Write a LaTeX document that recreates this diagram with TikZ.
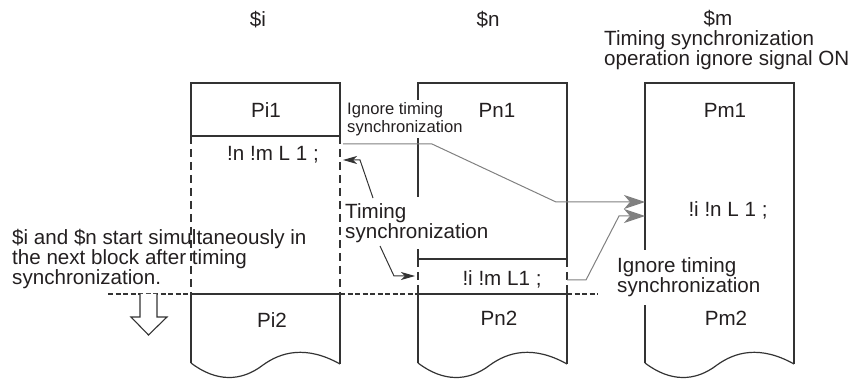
\documentclass[tikz,border=0pt]{standalone}
\usepackage{fontspec}
\setmainfont{Liberation Sans}
\usetikzlibrary{arrows.meta}
\definecolor{linec}{HTML}{333333}
\definecolor{textc}{HTML}{231F20}
\definecolor{grayc}{HTML}{808080}
\begin{document}
\begin{tikzpicture}[x=1pt,y=-1pt,
  box/.style={draw=linec,line width=1.2pt},
  dashv/.style={draw=linec,line width=1.2pt,dash pattern=on 8pt off 5pt},
  dashh/.style={draw=linec,line width=1.2pt,dash pattern=on 5pt off 2.5pt},
  txt/.style={inner sep=0pt,text=textc,font=\fontsize{20.6}{19}\selectfont},
  txtb/.style={inner sep=0pt,text=textc,font=\fontsize{20.6}{20}\selectfont},
  txtc/.style={inner sep=0pt,text=textc,font=\fontsize{20.6}{17.5}\selectfont},
  smalltxt/.style={inner sep=0pt,text=textc,font=\fontsize{16.6}{18}\selectfont},
  graylink/.style={draw=grayc,line width=1pt,-{Stealth[length=21pt,width=14pt,inset=6pt,fill=grayc]}},
  blacklink/.style={draw=linec,line width=1pt,-{Stealth[length=14pt,width=8pt,inset=4pt,fill=linec]}}
]
\path[use as bounding box] (0,0) rectangle (862,379);

% column $i
\draw[box] (191,83) rectangle (340,136);
\draw[dashv] (191,136) -- (191,294);
\draw[dashv] (340,136) -- (340,294);
\draw[box] (191,363) -- (191,294) -- (340,294) -- (340,364);
% column $n
\draw[box] (418,259) -- (418,83) -- (567,83) -- (567,259) -- cycle;
\draw[dashv] (418,259) -- (418,294);
\draw[dashv] (567,259) -- (567,294);
\draw[box] (418,363) -- (418,294) -- (567,294) -- (567,364);
% column $m
\draw[box] (645,363) -- (645,83) -- (794,83) -- (794,364);
% wavy bottoms
\foreach \L in {191,418,645}{
  \draw[box] (\L,363) .. controls (\L+25,382) and (\L+50,382) .. (\L+72,365)
             .. controls (\L+90,352) and (\L+115,345) .. (\L+149,364);
}
% dashed synchronization line
\draw[dashh] (108,294) -- (191,294);
\draw[dashh] (340,294) -- (418,294);
\draw[dashh] (567,294) -- (598,294);

% hollow down arrow
\draw[box,fill=white,line width=1.1pt] (140,294) -- (140,317) -- (131,317) -- (148.5,335) -- (167,317) -- (157,317) -- (157,294);

% headings
\node[txt] (si) at (258,20) {\$i};
\node[txt] (sn) at (488,20) {\$n};
\node[txt] (sm) at (718,19) {\$m};
\node[txtc,anchor=west,align=left] (mnote) at (604,50.5) {Timing synchronization\\operation ignore signal ON};

% block texts
\node[txt] (pi1) at (266,110) {Pi1};
\node[txt] (ci) at (273,155) {!n !m L 1 ;};
\node[txt] (pi2) at (272,320) {Pi2};
\node[txt] (pn1) at (497,110) {Pn1};
\node[txt] (cn) at (502,279) {!i !m L1 ;};
\node[txt] (pn2) at (499,318) {Pn2};
\node[txt] (pm1) at (725,110) {Pm1};
\node[txt] (cm) at (728,210) {!i !n L 1 ;};
\node[txt] (pm2) at (726,318) {Pm2};

% notes
\node[txt,anchor=west,align=left] (note) at (12,259) {\$i and \$n start simultaneously in\\the next block after timing\\synchronization.};
\node[smalltxt,anchor=west,align=left,fill=white,inner xsep=2pt,inner ysep=2pt] (ign1) at (345,119) {Ignore timing\\synchronization};
\node[txtb,anchor=west,align=left,fill=white,inner xsep=2pt,inner ysep=6pt] (tsync) at (343,223) {Timing\\synchronization};
\node[txtb,anchor=west,align=left,fill=white,inner xsep=2pt,inner ysep=8pt] (ign2) at (615,277.5) {Ignore timing\\synchronization};

% connector points
\coordinate (g1s) at (343,144);
\coordinate (g1a) at (432,144);
\coordinate (g1b) at (556,202);
\coordinate (g1e) at (645,202);
\coordinate (g2s) at (567,280);
\coordinate (g2a) at (586,280);
\coordinate (g2b) at (619,216);
\coordinate (g2e) at (645,216);
\coordinate (b1s) at (373,198);
\coordinate (b1a) at (360,160);
\coordinate (b1e) at (343,160);
\coordinate (b2s) at (380,246);
\coordinate (b2a) at (394,276);
\coordinate (b2e) at (415,276);

\draw[graylink] (g1s) -- (g1a) -- (g1b) -- (g1e);
\draw[graylink] (g2s) -- (g2a) -- (g2b) -- (g2e);
\draw[blacklink] (b1s) -- (b1a) -- (b1e);
\draw[blacklink] (b2s) -- (b2a) -- (b2e);
\end{tikzpicture}
\end{document}
